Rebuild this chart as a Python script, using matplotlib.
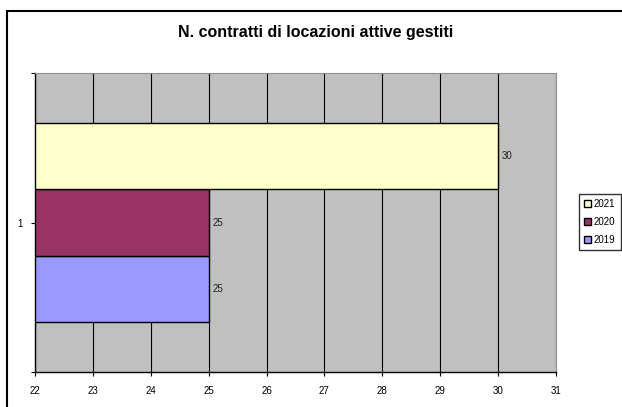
import matplotlib
matplotlib.use("Agg")
import matplotlib.pyplot as plt
from matplotlib.patches import Rectangle, Patch

plt.rcParams['font.family'] = ['Liberation Sans', 'DejaVu Sans']

# data
anni = ['2019', '2020', '2021']
contratti = [25, 25, 30]
colori = ['#9999ff', '#993366', '#ffffcc']
categoria = [1]

fig = plt.figure(figsize=(6.22, 4.07), dpi=100)
ax = fig.add_axes([0.0563, 0.086, 0.8375, 0.7346])

# outer chart border
fig.patches.append(Rectangle((7 / 622, -0.1), 1.2, 1 - 11 / 407 + 0.1,
                             transform=fig.transFigure, fill=False,
                             edgecolor='black', linewidth=1.5, zorder=0))

ax.set_facecolor('#c0c0c0')
h = 0.222
for i, (anno, val, col) in enumerate(zip(anni, contratti, colori)):
    y = categoria[0] + (i - 1) * h
    ax.barh(y, val - 22, left=22, height=h, color=col, edgecolor='black',
            linewidth=1, zorder=3)
    ax.text(val + 0.07, y, str(val), va='center', ha='left', fontsize=7,
            color='#222222')

ax.set_xlim(22, 31)
ax.set_ylim(0.5, 1.5)
ax.set_xticks(range(22, 32))
ax.set_yticks([0.5, 1, 1.5])
ax.set_yticklabels(['', '1', ''])
ax.tick_params(axis='x', labelsize=7, length=3, pad=7, direction='out')
ax.tick_params(axis='y', labelsize=7, length=3, pad=6)
ax.xaxis.grid(True, color='black', linewidth=0.8, zorder=1)
ax.set_axisbelow(True)
for s in ['top', 'right']:
    ax.spines[s].set_color('#909090')
for s in ['left', 'bottom']:
    ax.spines[s].set_color('black')
    ax.spines[s].set_linewidth(1)

fig.text(316 / 622, 1 - 33 / 407, 'N. contratti di locazioni attive gestiti',
         ha='center', va='center', fontsize=11.5, fontweight='bold')

handles = [Patch(facecolor=c, edgecolor='black', label=a)
           for a, c in zip(anni[::-1], colori[::-1])]
fig.legend(handles=handles, loc='center', bbox_to_anchor=(600 / 622, 1 - 222 / 407),
           fontsize=7, frameon=True, fancybox=False, edgecolor='black',
           handlelength=0.7, handleheight=0.7, handletextpad=0.3,
           borderpad=0.5, labelspacing=0.8, borderaxespad=0)

fig.savefig('out.png', dpi=100)
